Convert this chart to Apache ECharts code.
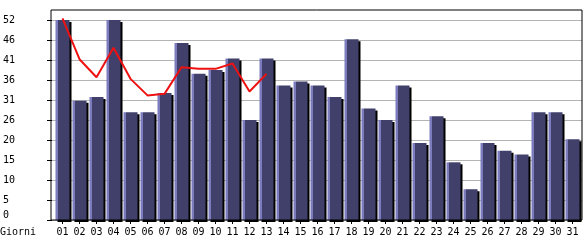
<!DOCTYPE html>
<html><head><meta charset="utf-8">
<script src="https://cdn.jsdelivr.net/npm/echarts@6/dist/echarts.min.js"></script>
<style>html,body{margin:0;padding:0;background:#fff}#c{width:585px;height:240px}</style>
</head><body><div id="c"></div>
<script>
// ---- data ----
const days = ['01','02','03','04','05','06','07','08','09','10','11','12','13','14','15','16','17','18','19','20','21','22','23','24','25','26','27','28','29','30','31'];
const visits = [52,31,32,52,28,28,33,46,38,39,42,26,42,35,36,35,32,47,29,26,35,20,27,15,8,20,18,17,28,28,21];
const trend = [52.4,41.8,37.1,44.8,36.7,32.4,32.8,39.7,39.3,39.3,40.7,33.4,38.0];
const yTickStep = 5.2;
const yTop = 52;
const yFrameMax = 54.6;
const xAxisName = 'Giorni';

const FONT = 'DejaVu Sans Mono';
const chart = echarts.init(document.getElementById('c'), null, {renderer: 'canvas'});
chart.setOption({
  animation: false,
  backgroundColor: '#fff',
  title: {text: xAxisName, left: 0, top: 227, padding: 0,
    textStyle: {fontFamily: FONT, fontSize: 10, fontWeight: 'normal', color: '#000'}},
  grid: [
    {left: 51, right: 3, top: 20, bottom: 20},
    {left: 51, right: 3, top: 10, bottom: 20, show: true, borderColor: '#000', borderWidth: 1, backgroundColor: 'transparent', z: 10},
    {left: 54, right: 4, top: 10, bottom: 20}
  ],
  xAxis: [
    {gridIndex: 0, type: 'value', min: 0, max: 1, show: false},
    {gridIndex: 1, type: 'value', min: 0, max: 1, show: false},
    {gridIndex: 2, type: 'category', data: days,
      axisLine: {show: false},
      axisTick: {show: true, alignWithLabel: true, length: 4, lineStyle: {color: '#000'}},
      axisLabel: {margin: 7, fontFamily: FONT, fontSize: 10, color: '#000', interval: 0},
      splitLine: {show: false}}
  ],
  yAxis: [
    {gridIndex: 0, type: 'value', min: 0, max: yTop, interval: yTickStep,
      axisLine: {show: false},
      axisTick: {show: true, length: 5, lineStyle: {color: '#000'}},
      axisLabel: {margin: 49, align: 'left', fontFamily: FONT, fontSize: 10, color: '#000',
        formatter: v => v === 0 ? '{z|0}' : String(Math.floor(v + 1e-6)),
        rich: {z: {fontFamily: FONT, fontSize: 10, color: '#000', padding: [0, 0, 9, 0]}}},
      splitLine: {show: true, lineStyle: {color: '#b4b4b4', width: 1}}},
    {gridIndex: 1, type: 'value', min: 0, max: 1, show: false},
    {gridIndex: 2, type: 'value', min: 0, max: yFrameMax, show: false}
  ],
  series: [
    {type: 'bar', xAxisIndex: 2, yAxisIndex: 2, data: visits, barWidth: 14,
      itemStyle: {
        color: new echarts.graphic.LinearGradient(0, 0, 1, 0, [
          {offset: 0, color: '#7b7bbd'}, {offset: 0.15, color: '#7b7bbd'},
          {offset: 0.15, color: '#40406a'}, {offset: 1, color: '#40406a'}]),
        shadowColor: '#000', shadowOffsetX: 2, shadowOffsetY: 2, shadowBlur: 0}},
    {type: 'line', xAxisIndex: 2, yAxisIndex: 2, data: trend, symbol: 'none', z: 5,
      lineStyle: {color: '#ee1111', width: 2}}
  ]
});
</script></body></html>
